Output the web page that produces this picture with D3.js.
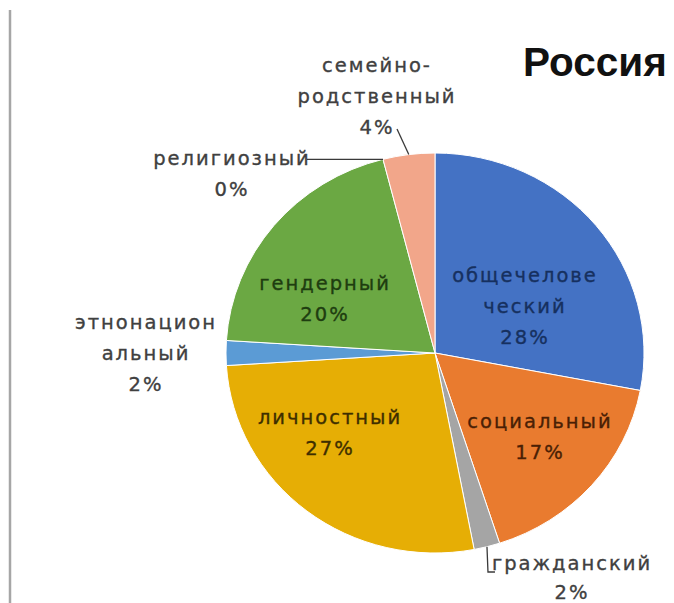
<!DOCTYPE html>
<html>
<head>
<meta charset="utf-8">
<script src="https://cdn.jsdelivr.net/npm/d3@7"></script>
<style>
  html, body { margin: 0; padding: 0; background: #fff; }
  svg { display: block; }
</style>
</head>
<body>
<svg id="chart" width="674" height="603"></svg>
<script>
// Value orientations, Russia (share of answers, %)
const categories = [
  "общечеловеческий", "социальный", "гражданский", "личностный",
  "этнонациональный", "гендерный", "религиозный", "семейно-родственный"
];
const values = [28, 17, 2, 27, 2, 20, 0, 4];
const sliceColors = ["#4472C4", "#E97B2F", "#A5A5A5", "#E6AE05",
                     "#5B9BD5", "#6BA843", "#8C8C8C", "#F2A68A"];
const title = "Россия";

// label text lines per category (name split as in the chart)
const labelLines = {
  "общечеловеческий": ["общечелове", "ческий"],
  "социальный": ["социальный"],
  "гражданский": ["гражданский"],
  "личностный": ["личностный"],
  "этнонациональный": ["этнонацион", "альный"],
  "гендерный": ["гендерный"],
  "религиозный": ["религиозный"],
  "семейно-родственный": ["семейно-", "родственный"]
};

// label placement: x = centre of text block, y = first line centre
const labelLayout = {
  "общечеловеческий":   { x: 525, y: 275, fill: "#16305f", gap: 31 },
  "социальный":         { x: 540, y: 421, fill: "#4a1f05", gap: 31 },
  "гражданский":        { x: 572, y: 563, fill: "#404040", gap: 29 },
  "личностный":         { x: 330, y: 417, fill: "#3e2e00", gap: 31 },
  "этнонациональный":   { x: 146, y: 322, fill: "#404040", gap: 31 },
  "гендерный":          { x: 325, y: 283, fill: "#1e3d10", gap: 31 },
  "религиозный":        { x: 232, y: 158, fill: "#404040", gap: 31 },
  "семейно-родственный":{ x: 377, y: 65,  fill: "#404040", gap: 31 }
};

const svg = d3.select("#chart");
const W = 674, H = 603;
const cx = 435, cy = 353, R = 200, sx = 1.045;

// left frame edge
svg.append("line")
  .attr("x1", 10).attr("x2", 10).attr("y1", 10).attr("y2", H)
  .attr("stroke", "#a6a6a6").attr("stroke-width", 2.5);

const data = categories.map((c, i) => ({ name: c, value: values[i], color: sliceColors[i] }));

const pie = d3.pie().sort(null).value(d => d.value).startAngle(0).endAngle(2 * Math.PI);
const arcs = pie(data);
const arc = d3.arc().innerRadius(0).outerRadius(R);

const g = svg.append("g").attr("transform", `translate(${cx},${cy}) scale(${sx},1)`);
g.selectAll("path.slice")
  .data(arcs.filter(a => a.data.value > 0))
  .join("path")
  .attr("class", "slice")
  .attr("d", arc)
  .attr("fill", d => d.data.color)
  .attr("stroke", "#ffffff")
  .attr("stroke-width", 1)
  .attr("vector-effect", "non-scaling-stroke");

// point on the rim at a slice's middle angle
function rimPoint(a, r) {
  const ang = (a.startAngle + a.endAngle) / 2;
  return [cx + sx * r * Math.sin(ang), cy - r * Math.cos(ang)];
}
const byName = {};
arcs.forEach(a => { byName[a.data.name] = a; });

// leader lines for the outside labels
const leader = svg.append("g").attr("fill", "none").attr("stroke", "#3a3a3a").attr("stroke-width", 1.3);
{
  const p = rimPoint(byName["религиозный"], R);
  leader.append("path").attr("d", d3.line()([[307, p[1]], p]));
}
{
  const p = rimPoint(byName["семейно-родственный"], R);
  leader.append("path").attr("d", d3.line()([[397, 129], p]));
}
{
  const p = rimPoint(byName["гражданский"], R);
  leader.append("path").attr("d", d3.line()([p, [p[0] + 1, 572], [p[0] + 8, 572]]));
}

// data labels: name lines + percentage
const labels = svg.append("g")
  .attr("font-family", "DejaVu Sans, Verdana, sans-serif")
  .attr("font-size", 19.5)
  .attr("letter-spacing", 2)
  .attr("text-anchor", "middle")
  .attr("dominant-baseline", "central");

data.forEach(d => {
  const L = labelLayout[d.name];
  const lines = labelLines[d.name].concat([d.value + "%"]);
  lines.forEach((t, i) => {
    labels.append("text")
      .attr("x", L.x)
      .attr("y", L.y + i * L.gap)
      .attr("fill", L.fill)
      .attr("stroke", L.fill)
      .attr("stroke-width", 0.35)
      .text(t);
  });
});

// chart title
svg.append("text")
  .attr("x", 595).attr("y", 62)
  .attr("text-anchor", "middle")
  .attr("dominant-baseline", "central")
  .attr("font-family", "Liberation Sans, Arial, sans-serif")
  .attr("font-weight", "bold")
  .attr("font-size", 40.5)
  .attr("fill", "#111")
  .text(title);
</script>
</body>
</html>
